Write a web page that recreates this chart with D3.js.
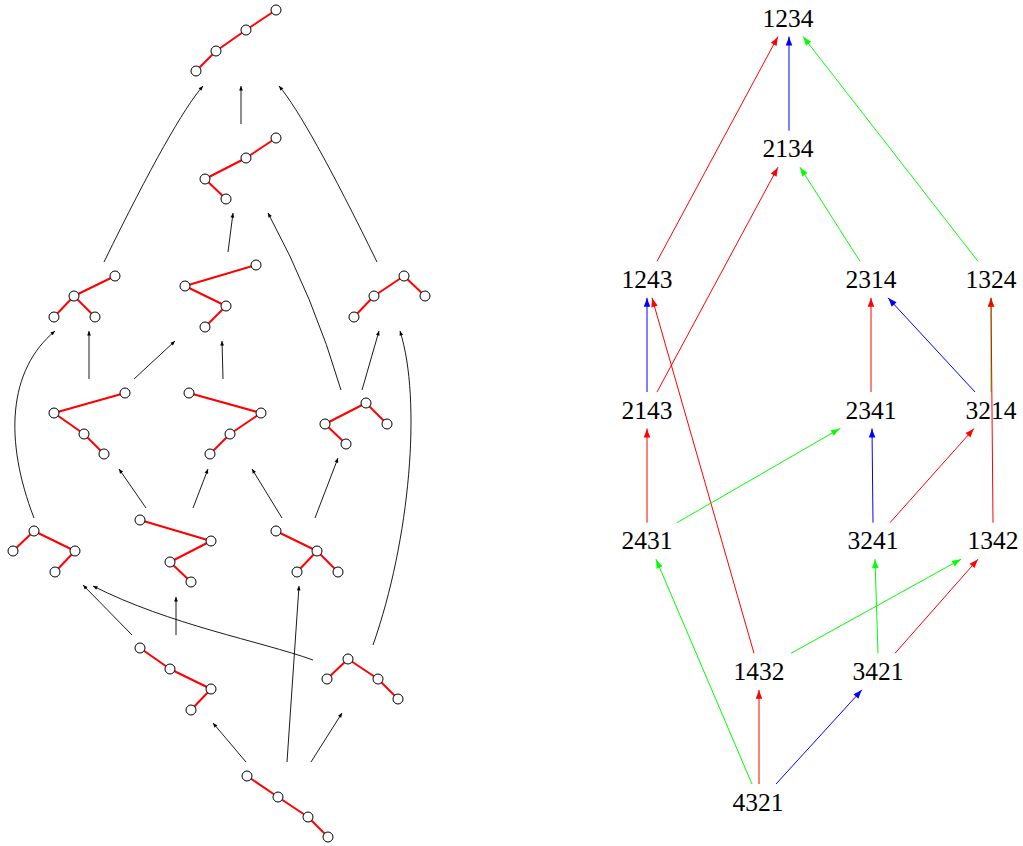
<!DOCTYPE html>
<html>
<head>
<meta charset="utf-8">
<script src="https://cdn.jsdelivr.net/npm/d3@7"></script>
<style>
  body { margin: 0; background: #fff; }
  .perm { font-family: "Liberation Serif", "Times New Roman", serif; font-size: 25.5px; fill: #000; }
</style>
</head>
<body>
<div id="main"></div>
<script>
var ctx = {
    w: 1023,
    h: 846,
};

// ---- left: binary trees with 4 nodes (Tamari lattice), node positions + links
var treeNodes = [
    [[196,71],[216,51],[246,30],[276,10]],     // A top
    [[276,138],[246,158],[205,179],[226,199]], // B
    [[115,276],[74,296],[54,317],[95,317]],    // C
    [[256,265],[185,286],[226,306],[205,327]], // D
    [[404,276],[374,296],[354,317],[425,296]], // E
    [[125,393],[54,413],[84,434],[104,454]],   // F
    [[189,393],[261,413],[230,434],[210,454]], // G
    [[366,403],[325,424],[346,444],[387,424]], // H
    [[34,531],[13,551],[75,551],[55,572]],     // I
    [[140,520],[211,541],[170,562],[191,582]], // J
    [[276,531],[317,551],[297,572],[338,572]], // K
    [[140,648],[170,669],[211,689],[191,710]], // L
    [[348,659],[327,679],[378,679],[398,699]], // M
    [[247,776],[278,797],[308,817],[328,837]]  // N bottom
];
var chain = [[0,1],[1,2],[2,3]];
var treeLinks = [
    chain, chain, [[0,1],[1,2],[1,3]], chain, [[0,1],[1,2],[0,3]],
    chain, chain, [[0,1],[1,2],[0,3]], [[0,1],[0,2],[2,3]], chain,
    [[0,1],[1,2],[1,3]], chain, [[0,1],[0,2],[2,3]], chain
];
// covering arrows between trees: 2 pts = straight, 3 = quadratic, 4 = cubic
var treeArrows = [
    [[104,262],[174,119],[203,86]],
    [[241,124],[241,86]],
    [[377,262],[307,119],[279,86]],
    [[228,252],[233,213]],
    [[341,390],[314,298],[268,213]],
    [[34,518],[4,440],[8,370],[55,331]],
    [[89,379],[89,331]],
    [[134,379],[175,341]],
    [[223,379],[222,341]],
    [[362,390],[379,331]],
    [[373,645],[410,540],[422,400],[400,331]],
    [[146,508],[119,469]],
    [[193,508],[208,469]],
    [[282,518],[252,469]],
    [[315,518],[338,458]],
    [[132,635],[83,585]],
    [[313,660],[260,641],[170,625],[93,586]],
    [[176,635],[176,597]],
    [[246,762],[213,723]],
    [[287,762],[299,586]],
    [[311,762],[342,713]]
];

// ---- right: permutations (weak order), label x and row
var perms = ["1234","2134","1243","2314","1324","2143","2341","3214","2431","3241","1342","1432","3421","4321"];
var permX = [788, 788, 647, 871, 991, 647, 871, 991, 647, 873, 993, 759, 878, 758];
var permRow = [0, 1, 2, 2, 2, 3, 3, 3, 4, 4, 4, 5, 5, 6];
// edges: from, to, colour, x offset at source, x offset at target
var permEdges = [
    ["1243","1234","#ff0000", 10,-10],
    ["2134","1234","#0000ff", 1, 1],
    ["1324","1234","#00ff00",-13, 15],
    ["2143","2134","#ff0000", 10,-10],
    ["2314","2134","#00ff00",-11, 12],
    ["2143","1243","#0000ff", 0, 0],
    ["1432","1243","#ff0000", -5, 5],
    ["2341","2314","#ff0000", 0, 0],
    ["3214","2314","#0000ff",-16, 17],
    ["3214","1324","#00ff00", 0, 0],
    ["1342","1324","#ff0000", 0, 0],
    ["2431","2143","#ff0000", 0, 0],
    ["2431","2341","#00ff00", 30,-31],
    ["3241","2341","#0000ff", 0, 1],
    ["3241","3214","#ff0000", 17,-17],
    ["4321","2431","#00ff00", -6, 9],
    ["1432","1342","#00ff00", 32,-32],
    ["3421","3241","#00ff00", 0, 2],
    ["3421","1342","#ff0000", 17,-15],
    ["4321","1432","#ff0000", 1, 0],
    ["4321","3421","#0000ff", 18,-16]
];

var createViz = function(){
    var svgEl = d3.select("#main").append("svg")
        .attr("width", ctx.w).attr("height", ctx.h);
    ctx.xScale = d3.scaleLinear().domain([0, ctx.w]).range([0, ctx.w]);
    ctx.yScale = d3.scaleLinear().domain([0, ctx.h]).range([0, ctx.h]);
    ctx.rowScale = d3.scaleLinear().domain([0, 6]).range([18, 802]);

    var defs = svgEl.append("defs");
    defs.append("marker").attr("id", "tip")
        .attr("markerUnits", "userSpaceOnUse")
        .attr("viewBox", "-6 -3 7 6").attr("refX", 0).attr("refY", 0)
        .attr("markerWidth", 7).attr("markerHeight", 6).attr("orient", "auto")
        .append("path").attr("d", "M-4.5,-1.9 L0,0 L-4.5,1.9 Z").attr("fill", "#000");
    ["#ff0000","#00ff00","#0000ff"].forEach(function(c, i){
        defs.append("marker").attr("id", "latex" + i)
            .attr("markerUnits", "userSpaceOnUse")
            .attr("viewBox", "-10 -4 11 8").attr("refX", 0).attr("refY", 0)
            .attr("markerWidth", 11).attr("markerHeight", 8).attr("orient", "auto")
            .append("path")
            .attr("d", "M-9,-3.3 Q-4,-1.2 0,0 Q-4,1.2 -9,3.3 Z")
            .attr("fill", c);
    });

    drawTrees(svgEl.append("g").attr("id", "treesG"));
    drawPerms(svgEl.append("g").attr("id", "permsG"));
};

var drawTrees = function(g){
    var X = ctx.xScale, Y = ctx.yScale;
    // arrows first (under the trees)
    g.append("g").selectAll("path")
      .data(treeArrows).enter().append("path")
      .attr("d", function(p){
          var pa = d3.path();
          pa.moveTo(X(p[0][0]), Y(p[0][1]));
          if (p.length == 2) pa.lineTo(X(p[1][0]), Y(p[1][1]));
          else if (p.length == 3) pa.quadraticCurveTo(X(p[1][0]), Y(p[1][1]), X(p[2][0]), Y(p[2][1]));
          else pa.bezierCurveTo(X(p[1][0]), Y(p[1][1]), X(p[2][0]), Y(p[2][1]), X(p[3][0]), Y(p[3][1]));
          return pa.toString();
      })
      .attr("fill", "none").attr("stroke", "#000").attr("stroke-width", 0.9)
      .attr("marker-end", "url(#tip)");

    var tg = g.selectAll("g.tree").data(treeNodes).enter().append("g").classed("tree", true);
    tg.selectAll("line")
      .data(function(nodes, i){
          return treeLinks[i].map(function(l){ return [nodes[l[0]], nodes[l[1]]]; });
      })
      .enter().append("line")
      .attr("x1", function(d){ return X(d[0][0]); })
      .attr("y1", function(d){ return Y(d[0][1]); })
      .attr("x2", function(d){ return X(d[1][0]); })
      .attr("y2", function(d){ return Y(d[1][1]); })
      .attr("stroke", "#ff0000").attr("stroke-width", 2);
    tg.selectAll("circle")
      .data(function(nodes){ return nodes; })
      .enter().append("circle")
      .attr("cx", function(d){ return X(d[0]); })
      .attr("cy", function(d){ return Y(d[1]); })
      .attr("r", 5)
      .attr("fill", "#fff").attr("stroke", "#000").attr("stroke-width", 1);
};

var drawPerms = function(g){
    var X = ctx.xScale, R = ctx.rowScale;
    var pos = {};
    perms.forEach(function(p, i){ pos[p] = {x: permX[i], y: R(permRow[i])}; });

    g.append("g").selectAll("text")
      .data(perms).enter().append("text")
      .classed("perm", true)
      .attr("x", function(d){ return X(pos[d].x); })
      .attr("y", function(d){ return pos[d].y + 8.8; })
      .attr("text-anchor", "middle")
      .text(function(d){ return d; });

    var colIdx = {"#ff0000": 0, "#00ff00": 1, "#0000ff": 2};
    g.append("g").selectAll("line")
      .data(permEdges).enter().append("line")
      .attr("x1", function(e){ return X(pos[e[0]].x + e[3]); })
      .attr("y1", function(e){ return pos[e[0]].y - 18; })
      .attr("x2", function(e){ return X(pos[e[1]].x + e[4]); })
      .attr("y2", function(e){ return pos[e[1]].y + 18.5; })
      .attr("stroke", function(e){ return e[2]; })
      .attr("stroke-width", 1)
      .attr("marker-end", function(e){ return "url(#latex" + colIdx[e[2]] + ")"; });
};

createViz();
</script>
</body>
</html>
